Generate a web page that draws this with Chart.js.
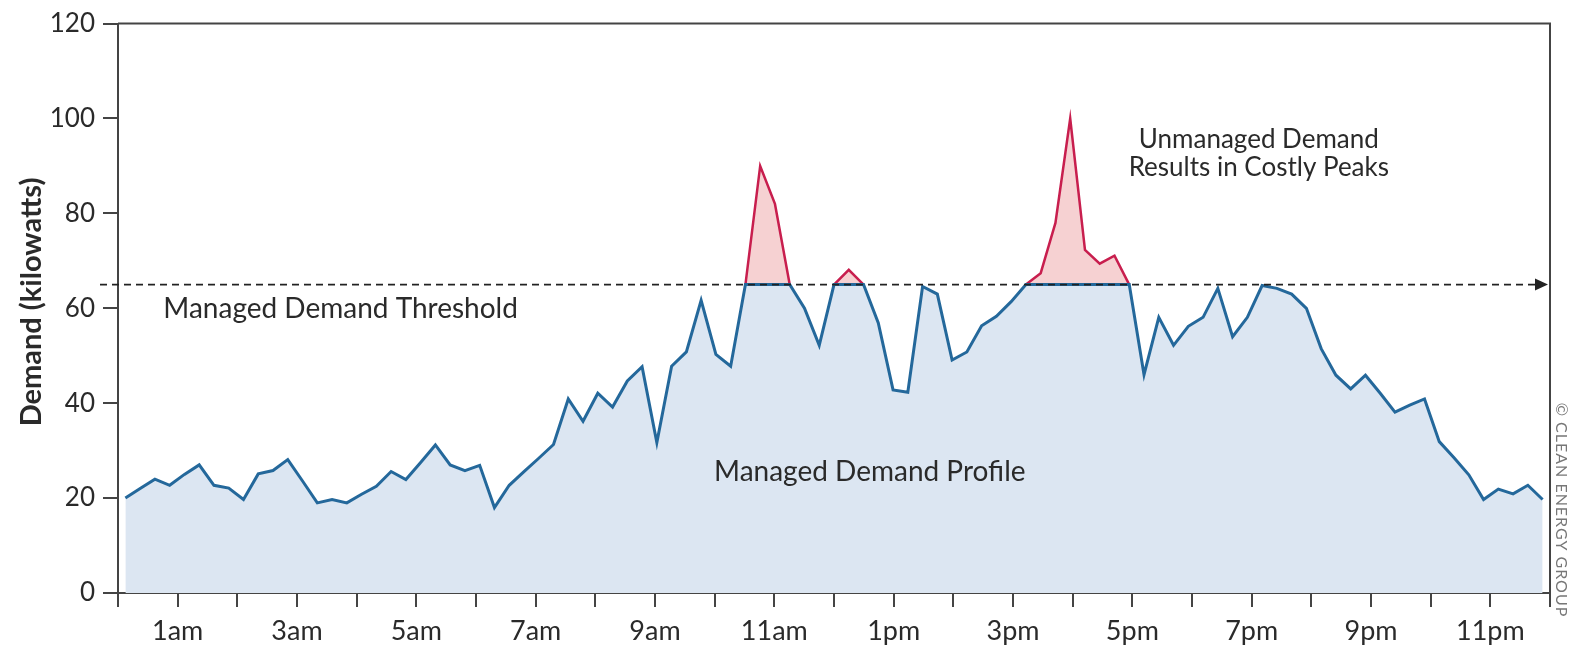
<!DOCTYPE html>
<html>
<head>
<meta charset="utf-8">
<script src="https://cdn.jsdelivr.net/npm/chart.js@4/dist/chart.umd.min.js"></script>
<style>
  body { margin: 0; background: #fff; }
  #wrap { width: 1570px; height: 648px; }
</style>
</head>
<body>
<div id="wrap"><canvas id="demand-chart" width="1570" height="648"></canvas></div>
<script>
// readings roughly every 15 minutes through the day (kW)
var managed = [
  20, 22, 24, 22.7, 25, 27, 22.7, 22.1, 19.7, 25.1, 25.8, 28.1, 23.6,
  19, 19.7, 19, 20.8, 22.5, 25.6, 23.9, 27.5, 31.2, 27, 25.8, 26.9,
  18, 22.7, 25.6, 28.4, 31.3, 40.9, 36.2, 42.1, 39.2, 44.7, 47.7, 31.7,
  47.8, 50.8, 61.7, 50.3, 47.8, 65, 65, 65, 65, 60, 52.2, 65, 65, 65,
  56.9, 42.8, 42.3, 64.6, 63, 49.1, 50.8, 56.3, 58.3, 61.4, 65, 65, 65,
  65, 65, 65, 65, 65, 46, 58.1, 52.2, 56.2, 58.1, 64.2, 54, 58.1, 64.8,
  64.2, 63, 60, 51.5, 45.9, 43, 45.9, 42.1, 38.1, 39.6, 40.9, 31.9,
  28.5, 24.9, 19.7, 21.9, 20.9, 22.7, 19.7
];

// demand above the threshold when not managed (null = not over)
var peaks = [
  null, null, null, null, null, null, null, null, null, null, null, null, null,
  null, null, null, null, null, null, null, null, null, null, null, null,
  null, null, null, null, null, null, null, null, null, null, null, null,
  null, null, null, null, null, 65, 90, 82, 65, null, null, 65, 68.1, 65,
  null, null, null, null, null, null, null, null, null, null, 65, 67.4, 78,
  100, 72.3, 69.4, 71.1, 65, null, null, null, null, null, null, null, null, null,
  null, null, null, null, null, null, null, null, null, null, null, null,
  null, null, null, null, null, null, null
];

var threshold = 65;

var hourLabels = ['', '1am', '', '3am', '', '5am', '', '7am', '', '9am', '', '11am',
  '', '1pm', '', '3pm', '', '5pm', '', '7pm', '', '9pm', '', '11pm', ''];

var yTicks = [0, 20, 40, 60, 80, 100, 120];

var notes = [
  { text: 'Managed Demand Threshold', hour: 0.76, kw: 57.9, align: 'left' },
  { text: 'Managed Demand Profile', hour: 12.6, kw: 23.5, align: 'center' },
  { text: 'Unmanaged Demand', hour: 19.12, kw: 93.75, align: 'center' },
  { text: 'Results in Costly Peaks', hour: 19.12, kw: 87.9, align: 'center' }
];

var FONT = 'Lato, "Liberation Sans", sans-serif';
var INK = '#2a2a2a';
var AXIS = '#444';

// frame, threshold line, labels
var overlay = {
  id: 'overlay',
  afterDatasetsDraw: function (chart) {
    var ctx = chart.ctx;
    var area = chart.chartArea;
    var y = chart.scales.y;
    var hx = chart.scales.hours;

    ctx.save();
    // top and right frame
    ctx.strokeStyle = AXIS;
    ctx.lineWidth = 2;
    ctx.beginPath();
    ctx.moveTo(area.left, area.top);
    ctx.lineTo(area.right, area.top);
    ctx.lineTo(area.right, area.bottom);
    ctx.stroke();

    // dashed threshold with arrow
    var ty = y.getPixelForValue(threshold);
    ctx.strokeStyle = '#222';
    ctx.lineWidth = 1.6;
    ctx.setLineDash([7, 5]);
    ctx.beginPath();
    ctx.moveTo(area.left - 18, ty);
    ctx.lineTo(area.right - 15, ty);
    ctx.stroke();
    ctx.setLineDash([]);
    ctx.fillStyle = '#222';
    ctx.beginPath();
    ctx.moveTo(area.right - 15, ty - 6);
    ctx.lineTo(area.right - 2, ty);
    ctx.lineTo(area.right - 15, ty + 6);
    ctx.closePath();
    ctx.fill();

    // text notes
    ctx.fillStyle = INK;
    ctx.textBaseline = 'alphabetic';
    notes.forEach(function (n, i) {
      ctx.font = (i < 2 ? 28 : 26) + 'px ' + FONT;
      ctx.textAlign = n.align;
      ctx.fillText(n.text, hx.getPixelForValue(n.hour), y.getPixelForValue(n.kw));
    });

    // axis title
    ctx.save();
    ctx.translate(32, 302);
    ctx.rotate(-Math.PI / 2);
    ctx.textAlign = 'center';
    ctx.textBaseline = 'middle';
    ctx.font = 'bold 29px ' + FONT;
    ctx.fillText('Demand (kilowatts)', 0, 0);
    ctx.restore();

    // credit
    ctx.save();
    ctx.translate(area.right + 11, 510);
    ctx.rotate(Math.PI / 2);
    ctx.textAlign = 'center';
    ctx.textBaseline = 'middle';
    ctx.font = '16px ' + FONT;
    ctx.letterSpacing = '1px';
    ctx.fillStyle = '#777';
    ctx.fillText('\u00A9 CLEAN ENERGY GROUP', 0, 0);
    ctx.restore();

    ctx.restore();
  }
};

var ctx = document.getElementById('demand-chart').getContext('2d');
var chart = new Chart(ctx, {
  type: 'line',
  data: {
    labels: managed.map(function (v, i) { return i; }),
    datasets: [{
      label: 'Managed Demand Profile',
      data: managed,
      borderColor: '#24689b',
      backgroundColor: '#dce6f2',
      borderWidth: 3,
      fill: 'origin',
      pointRadius: 0,
      tension: 0,
      order: 0
    }, {
      label: 'Unmanaged peaks',
      data: peaks,
      borderColor: '#c81e4e',
      backgroundColor: '#f6d1d2',
      borderWidth: 2.5,
      fill: { value: threshold },
      spanGaps: false,
      pointRadius: 0,
      tension: 0,
      order: 1
    }]
  },
  options: {
    responsive: false,
    animation: false,
    devicePixelRatio: 1,
    layout: { padding: { top: 17, right: 20, left: 0, bottom: 0 } },
    plugins: {
      legend: { display: false },
      tooltip: { enabled: false }
    },
    scales: {
      x: {
        type: 'category',
        display: false,
        offset: true
      },
      hours: {
        type: 'linear',
        position: 'bottom',
        min: 0,
        max: 24,
        afterBuildTicks: function (s) {
          s.ticks = hourLabels.map(function (l, i) { return { value: i }; });
        },
        afterFit: function (s) { s.height = 55; },
        grid: { drawOnChartArea: false, tickLength: 14, color: AXIS, lineWidth: 2 },
        border: { display: true, color: AXIS, width: 2 },
        ticks: {
          autoSkip: false,
          maxRotation: 0,
          padding: 8,
          color: INK,
          font: { family: FONT, size: 27 },
          callback: function (v) { return hourLabels[v]; }
        }
      },
      y: {
        min: 0,
        max: 120,
        afterBuildTicks: function (s) {
          s.ticks = yTicks.map(function (v) { return { value: v }; });
        },
        afterFit: function (s) { s.width = 118; },
        grid: { drawOnChartArea: false, tickLength: 15, color: AXIS, lineWidth: 2 },
        border: { display: true, color: AXIS, width: 2 },
        ticks: {
          padding: 8,
          color: INK,
          font: { family: FONT, size: 26 }
        }
      }
    }
  },
  plugins: [overlay]
});
</script>
</body>
</html>
